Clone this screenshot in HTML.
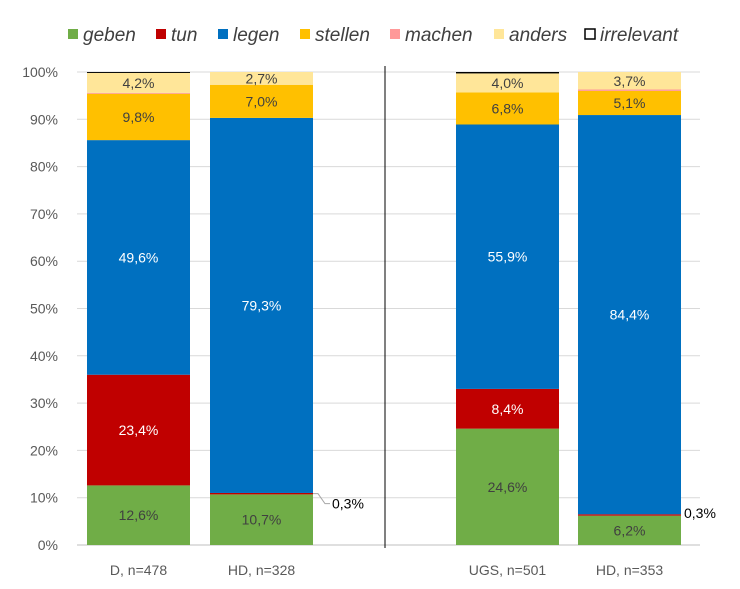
<!DOCTYPE html>
<html><head><meta charset="utf-8"><style>
body{margin:0;background:#fff}
svg{font-family:"Liberation Sans",sans-serif}
</style></head><body>
<svg width="740" height="584" viewBox="0 0 740 584">
<g id="grid"></g>
<g id="yaxis"></g>
<g id="bars"></g>
<g id="xaxis"></g>
<g id="legend"></g>
<line x1="385" y1="66" x2="385" y2="548" stroke="#000" stroke-width="1"/>
</svg>
<script>
const categories=["D, n=478","HD, n=328","UGS, n=501","HD, n=353"];
const seriesNames=["geben","tun","legen","stellen","machen","anders","irrelevant"];
const geben=[12.6,10.7,24.6,6.2];
const tun=[23.4,0.3,8.4,0.3];
const legen=[49.6,79.3,55.9,84.4];
const stellen=[9.8,7.0,6.8,5.1];
const machen=[0.2,0,0,0.3];
const anders=[4.2,2.7,4.0,3.7];
const irrelevant=[0.2,0,0.3,0];
const yTicks=[0,10,20,30,40,50,60,70,80,90,100];
const series=[geben,tun,legen,stellen,machen,anders,irrelevant];
const colors=["#70ad47","#c00000","#0070c0","#ffc000","#ff9999","#ffe699","#000000"];
const labelColors=["#404040","#fff","#fff","#404040",null,"#404040",null];
const barX=[87,210,456,578], barW=103;
const NS="http://www.w3.org/2000/svg";
const y=v=>545-v*4.73;
function mk(tag,attrs,parent,txt){const e=document.createElementNS(NS,tag);for(const k in attrs)e.setAttribute(k,attrs[k]);if(txt!==undefined)e.textContent=txt;parent.appendChild(e);return e;}
const grid=document.getElementById('grid'),ya=document.getElementById('yaxis'),bars=document.getElementById('bars'),xa=document.getElementById('xaxis'),lg=document.getElementById('legend');
yTicks.forEach(t=>{
  const l=mk('line',{x1:77,x2:700,y1:y(t),y2:y(t),stroke:t===0?'#bfbfbf':'#d9d9d9','stroke-width':1},grid);
  
  
  const tx=mk('text',{x:58,y:y(t)+5,'text-anchor':'end','font-size':14,fill:'#595959'},ya,t+'%');
  
  
});
categories.forEach((c,i)=>{
  let acc=0;
  series.forEach((s,j)=>{
    const v=s[i]; if(!v) return;
    const r=mk('rect',{x:barX[i],y:y(acc+v),width:barW,height:v*4.73,fill:colors[j]},bars);
    
    
    if(labelColors[j]&&v>=1){
      const t=mk('text',{x:barX[i]+barW/2,y:y(acc+v/2)+5,'text-anchor':'middle','font-size':14,fill:labelColors[j]},bars,v.toFixed(1).replace('.',',')+'%');
      
      
    }
    if(j===1&&v<1){
      const ly=y(acc+v/2);
      if(i===1){
        const p=mk('polyline',{points:`${barX[i]+barW},${ly} ${barX[i]+barW+5},${ly} ${barX[i]+barW+12},${ly+10} ${barX[i]+barW+17},${ly+10}`,fill:'none',stroke:'#a6a6a6'},bars);
        
        
        const t=mk('text',{x:barX[i]+barW+19,y:ly+15,'font-size':14,fill:'#000'},bars,v.toFixed(1).replace('.',',')+'%');
        
        
      }else{
        const t=mk('text',{x:barX[i]+barW+3,y:ly+3,'font-size':14,fill:'#000'},bars,v.toFixed(1).replace('.',',')+'%');
        
        
      }
    }
    acc+=v;
  });
  const t=mk('text',{x:barX[i]+barW/2,y:575,'text-anchor':'middle','font-size':14,fill:'#595959'},xa,c);
  
  
});
const legX=[68,156,218,300,390,494,585];
seriesNames.forEach((n,j)=>{
  const r=mk('rect',{x:legX[j],y:29,width:10,height:10,fill:j===6?'#fff':colors[j],stroke:j===6?'#000':'none','stroke-width':1.5},lg);
  
  
  const t=mk('text',{x:legX[j]+15,y:41,'font-size':19,'font-style':'italic',fill:'#404040'},lg,n);
  
  
});
</script>
</body></html>
